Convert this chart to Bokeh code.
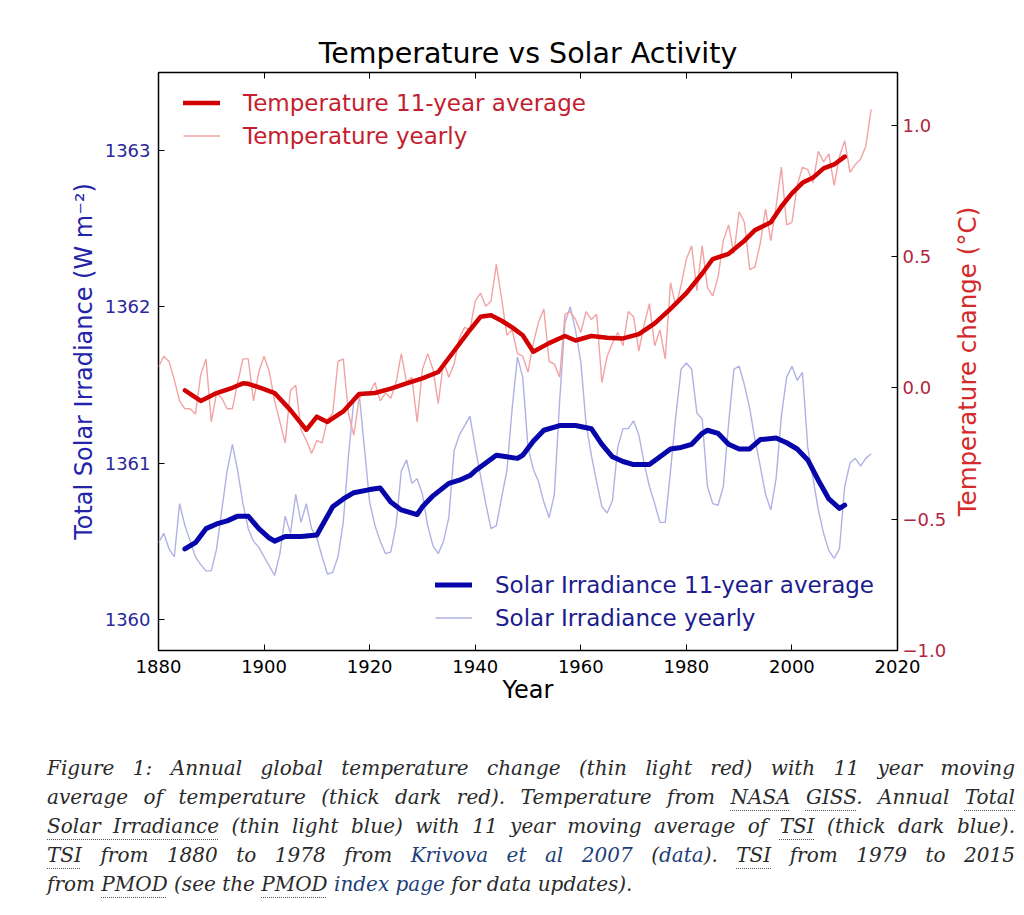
from bokeh.plotting import figure
from bokeh.models import Range1d, LinearAxis, FixedTicker, Legend, LegendItem, Div
from bokeh.layouts import column, row
from bokeh.embed import file_html
from bokeh.resources import INLINE

# ---------------------------------------------------------------- data
years = list(range(1880, 2016))

# annual global temperature change (deg C)
temp_yearly = [
    0.08, 0.12, 0.10, 0.03, -0.05, -0.08, -0.08, -0.10, 0.05, 0.11,      # 1880-1889
    -0.13, -0.02, -0.04, -0.08, -0.08, 0.02, 0.11, 0.11, -0.05, 0.06,    # 1890-1899
    0.12, 0.06, -0.05, -0.13, -0.21, -0.01, 0.01, -0.16, -0.20, -0.25,   # 1900-1909
    -0.20, -0.21, -0.12, -0.10, 0.10, 0.11, -0.10, -0.18, -0.04, -0.02,  # 1910-1919
    -0.02, 0.02, -0.05, -0.02, -0.04, 0.02, 0.13, 0.02, 0.04, -0.13,     # 1920-1929
    0.07, 0.13, 0.07, -0.06, 0.10, 0.04, 0.09, 0.19, 0.23, 0.22,         # 1930-1939
    0.33, 0.36, 0.31, 0.33, 0.47, 0.34, 0.20, 0.22, 0.13, 0.12,          # 1940-1949
    0.06, 0.17, 0.25, 0.30, 0.10, 0.09, 0.04, 0.28, 0.29, 0.26,          # 1950-1959
    0.21, 0.29, 0.26, 0.28, 0.02, 0.12, 0.17, 0.21, 0.16, 0.29,          # 1960-1969
    0.27, 0.14, 0.24, 0.32, 0.16, 0.22, 0.11, 0.40, 0.31, 0.39,          # 1970-1979
    0.49, 0.54, 0.37, 0.54, 0.38, 0.35, 0.42, 0.56, 0.62, 0.51,          # 1980-1989
    0.67, 0.63, 0.45, 0.46, 0.55, 0.68, 0.56, 0.69, 0.84, 0.62,          # 1990-1999
    0.63, 0.77, 0.84, 0.83, 0.78, 0.90, 0.86, 0.89, 0.77, 0.88,          # 2000-2009
    0.94, 0.82, 0.85, 0.87, 0.92, 1.06,                                  # 2010-2015
]

# annual total solar irradiance (W m-2)
tsi_yearly = [
    1360.49, 1360.55, 1360.45, 1360.40, 1360.74, 1360.60, 1360.50, 1360.40, 1360.35, 1360.31,
    1360.31, 1360.45, 1360.70, 1360.95, 1361.12, 1360.95, 1360.74, 1360.58, 1360.50, 1360.46,
    1360.40, 1360.34, 1360.28, 1360.42, 1360.66, 1360.55, 1360.80, 1360.62, 1360.74, 1360.58,
    1360.52, 1360.40, 1360.29, 1360.30, 1360.40, 1360.62, 1361.05, 1361.40, 1361.45, 1361.10,
    1360.75, 1360.60, 1360.50, 1360.42, 1360.43, 1360.60, 1360.95, 1361.02, 1360.87, 1360.90,
    1360.80, 1360.60, 1360.47, 1360.42, 1360.50, 1360.65, 1361.08, 1361.18, 1361.24, 1361.30,
    1361.10, 1360.92, 1360.74, 1360.58, 1360.60, 1360.78, 1360.95, 1361.35, 1361.68, 1361.55,
    1361.10, 1360.96, 1360.88, 1360.75, 1360.65, 1360.80, 1361.40, 1361.90, 1362.00, 1361.85,
    1361.65, 1361.25, 1361.05, 1360.88, 1360.72, 1360.68, 1360.76, 1361.10, 1361.22, 1361.22,
    1361.27, 1361.18, 1361.00, 1360.85, 1360.74, 1360.62, 1360.62, 1360.95, 1361.30, 1361.60,
    1361.64, 1361.60, 1361.32, 1361.28, 1360.85, 1360.74, 1360.73, 1360.85, 1361.25, 1361.60,
    1361.62, 1361.50, 1361.35, 1361.15, 1360.98, 1360.80, 1360.70, 1360.90, 1361.30, 1361.55,
    1361.62, 1361.53, 1361.58, 1361.10, 1360.90, 1360.70, 1360.55, 1360.44, 1360.39, 1360.45,
    1360.85, 1361.00, 1361.03, 1360.98, 1361.03, 1361.06,
]

# 11-year moving average of temperature
temp_avg_years = [1885, 1888, 1891, 1894, 1896, 1897, 1900, 1902, 1905, 1908, 1910, 1912,
                  1915, 1918, 1921, 1924, 1927, 1930, 1933, 1936, 1939, 1941, 1943, 1945,
                  1947, 1949, 1951, 1954, 1957, 1959, 1962, 1965, 1968, 1971, 1974, 1977,
                  1980, 1983, 1985, 1988, 1991, 1993, 1996, 1998, 2000, 2002, 2004, 2006,
                  2008, 2010]
temp_avg = [-0.01, -0.05, -0.02, 0.00, 0.017, 0.015, -0.005, -0.02, -0.085, -0.16, -0.11, -0.13,
            -0.09, -0.024, -0.02, -0.003, 0.017, 0.036, 0.06, 0.14, 0.22, 0.27, 0.276, 0.255,
            0.23, 0.20, 0.137, 0.17, 0.197, 0.18, 0.197, 0.19, 0.188, 0.204, 0.245, 0.30,
            0.36, 0.435, 0.49, 0.51, 0.56, 0.60, 0.63, 0.69, 0.74, 0.78, 0.80, 0.835,
            0.85, 0.88]

# 11-year moving average of TSI
tsi_avg_years = [1885, 1887, 1889, 1891, 1893, 1895, 1897, 1899, 1901, 1902, 1904, 1907,
                 1910, 1911, 1913, 1915, 1917, 1920, 1922, 1924, 1926, 1929, 1930, 1932,
                 1935, 1937, 1939, 1940, 1942, 1944, 1946, 1948, 1949, 1951, 1953, 1956,
                 1959, 1962, 1964, 1966, 1968, 1970, 1973, 1975, 1977, 1979, 1981, 1983,
                 1984, 1986, 1988, 1990, 1992, 1994, 1997, 1999, 2001, 2003, 2005, 2007,
                 2009, 2010]
tsi_avg = [1360.45, 1360.49, 1360.58, 1360.61, 1360.63, 1360.66, 1360.66, 1360.58, 1360.52, 1360.50,
           1360.53, 1360.53, 1360.54, 1360.60, 1360.72, 1360.77, 1360.81, 1360.83, 1360.84, 1360.75,
           1360.70, 1360.67, 1360.72, 1360.79, 1360.87, 1360.89, 1360.92, 1360.95, 1361.00, 1361.05,
           1361.04, 1361.03, 1361.05, 1361.14, 1361.21, 1361.24, 1361.24, 1361.22, 1361.12, 1361.04,
           1361.01, 1360.99, 1360.99, 1361.04, 1361.09, 1361.10, 1361.12, 1361.19, 1361.21, 1361.19,
           1361.12, 1361.09, 1361.09, 1361.15, 1361.16, 1361.13, 1361.09, 1361.02, 1360.89, 1360.77,
           1360.71, 1360.73]

year_ticks = [1880, 1900, 1920, 1940, 1960, 1980, 2000, 2020]
tsi_ticks = [1360, 1361, 1362, 1363]
temp_ticks = [-1.0, -0.5, 0.0, 0.5, 1.0]
temp_tick_labels = ["\u22121.0", "\u22120.5", "0.0", "0.5", "1.0"]

# ---------------------------------------------------------------- style
FONT = "DejaVu Sans"
RED_THICK = "#d20000"
RED_THIN = "#f2a3a3"
BLUE_THICK = "#0606aa"
BLUE_THIN = "#b0b2e4"
BLUE_TEXT = "#28289c"
RED_TEXT = "#c41e30"

p = figure(width=950, height=720,
           x_range=Range1d(1880, 2020), y_range=Range1d(1359.8, 1363.5),
           output_backend="svg", toolbar_location=None,
           min_border_left=158, min_border_right=53,
           min_border_top=72, min_border_bottom=70)
p.extra_y_ranges = {"temp": Range1d(-1.0, 1.2)}

p.title.text = "Temperature vs Solar Activity"
p.title.align = "center"
p.title.text_font = FONT
p.title.text_font_size = "28.5px"
p.title.text_font_style = "normal"
p.title.text_color = "black"
p.title.standoff = 5

p.xgrid.visible = False
p.ygrid.visible = False
p.background_fill_color = "white"
p.border_fill_color = "white"
p.outline_line_color = "black"
p.outline_line_width = 1.5
p.outline_line_alpha = 1.0


def style_axis(ax, color):
    ax.axis_line_color = None
    ax.major_tick_in = 6
    ax.major_tick_out = 0
    ax.major_tick_line_color = "black"
    ax.major_tick_line_width = 1
    ax.minor_tick_line_color = None
    ax.major_label_text_font = FONT
    ax.major_label_text_font_size = "18px"
    ax.major_label_text_color = color
    ax.axis_label_text_font = FONT
    ax.axis_label_text_font_size = "24px"
    ax.axis_label_text_font_style = "normal"


# bottom axis
xb = p.xaxis[0]
style_axis(xb, "black")
xb.ticker = FixedTicker(ticks=year_ticks)
xb.axis_label = "Year"
xb.axis_label_text_color = "black"
xb.major_label_standoff = 9
xb.axis_label_standoff = 0

# top axis: ticks only
xt = LinearAxis(ticker=FixedTicker(ticks=year_ticks))
style_axis(xt, "black")
xt.major_label_text_alpha = 0
xt.major_label_text_font_size = "1px"
xt.major_label_standoff = 0
p.add_layout(xt, "above")

# left axis: irradiance
yl = p.yaxis[0]
style_axis(yl, BLUE_TEXT)
yl.ticker = FixedTicker(ticks=tsi_ticks)
yl.axis_label = "Total Solar Irradiance (W m\u207b\u00b2)"
yl.axis_label_text_color = "#2424a8"
yl.major_label_standoff = 8
yl.axis_label_standoff = 4

# right axis: temperature
yr = LinearAxis(y_range_name="temp", ticker=FixedTicker(ticks=temp_ticks))
style_axis(yr, "#b22540")
yr.major_label_overrides = {t: s for t, s in zip(temp_ticks, temp_tick_labels)}
yr.major_label_standoff = 5
p.add_layout(yr, "right")

# ---------------------------------------------------------------- lines
r_sy = p.line(years, tsi_yearly, line_color=BLUE_THIN, line_width=1.4)
r_sa = p.line(tsi_avg_years, tsi_avg, line_color=BLUE_THICK, line_width=5,
              line_join="round", line_cap="round")
r_ty = p.line(years, temp_yearly, y_range_name="temp", line_color=RED_THIN, line_width=1.4)
r_ta = p.line(temp_avg_years, temp_avg, y_range_name="temp", line_color=RED_THICK,
              line_width=4.5, line_join="round", line_cap="round")


def make_legend(items, loc, color):
    lg = Legend(items=items, location=loc)
    lg.border_line_color = None
    lg.background_fill_alpha = 0
    lg.padding = 0
    lg.margin = 0
    lg.spacing = 0
    lg.glyph_width = 37
    lg.glyph_height = 33
    lg.label_height = 33
    lg.label_standoff = 23
    lg.label_text_font = FONT
    lg.label_text_font_size = "23px"
    lg.label_text_color = color
    return lg


leg_t = make_legend([LegendItem(label="Temperature 11-year average", renderers=[r_ta]),
                     LegendItem(label="Temperature yearly", renderers=[r_ty])],
                    (25, 498), RED_TEXT)
leg_s = make_legend([LegendItem(label="Solar Irradiance 11-year average", renderers=[r_sa]),
                     LegendItem(label="Solar Irradiance yearly", renderers=[r_sy])],
                    (277, 16), "#1c1c8e")
p.add_layout(leg_t)
p.add_layout(leg_s)

# ---------------------------------------------------------------- right-hand axis title
# a narrow strip whose left-side title reads bottom to top, like the left axis title
strip = figure(width=74, height=720, output_backend="svg", toolbar_location=None,
               x_range=Range1d(0, 1), y_range=Range1d(0, 1),
               min_border_left=0, min_border_right=0, min_border_top=0, min_border_bottom=0,
               title="Temperature change (\u00b0C)", title_location="left")
strip.axis.visible = False
strip.grid.visible = False
strip.outline_line_color = None
strip.title.align = "center"
strip.title.text_font = FONT
strip.title.text_font_size = "24.5px"
strip.title.text_font_style = "normal"
strip.title.text_color = "#d42a2a"
strip.title.standoff = 0

# ---------------------------------------------------------------- caption
DOT = ("text-decoration: underline dotted #555; text-decoration-thickness: 1px; "
       "text-underline-offset: 6px;")
LINK = "color: #1d3f7a;"


def u(t):
    return f'<span style="{DOT}">{t}</span>'


def a(t):
    return f'<span style="{LINK}">{t}</span>'


caption_lines = [
    "Figure 1: Annual global temperature change (thin light red) with 11 year moving",
    f"average of temperature (thick dark red). Temperature from {u('NASA')} {u('GISS')}. Annual {u('Total')}",
    f"{u('Solar Irradiance')} (thin light blue) with 11 year moving average of {u('TSI')} (thick dark blue).",
    f"{u('TSI')} from 1880 to 1978 from {a('Krivova et al 2007')} ({a('data')}). {u('TSI')} from 1979 to 2015",
    f"from {u('PMOD')} (see the {u('PMOD')} {a('index page')} for data updates).",
]

line_style = ("white-space: nowrap; text-align: justify; text-align-last: justify; "
              "height: 29px; line-height: 29px;")
last_style = "white-space: nowrap; text-align: left; height: 29px; line-height: 29px;"
html_lines = []
for i, ln in enumerate(caption_lines):
    st = last_style if i == len(caption_lines) - 1 else line_style
    html_lines.append(f'<div style="{st}">{ln}</div>')

caption = Div(
    text=('<div style="width: 968px; font-family: \'DejaVu Serif\'; font-style: italic; '
          'font-size: 20px; color: #2a2a2a;">' + "".join(html_lines) + "</div>"),
    width=1024, height=195,
    styles={"padding-left": "42px", "padding-top": "29px", "box-sizing": "border-box"},
)

layout = column(row(p, strip, spacing=0), caption, spacing=0)
open("out.html", "w").write(file_html(layout, INLINE))
